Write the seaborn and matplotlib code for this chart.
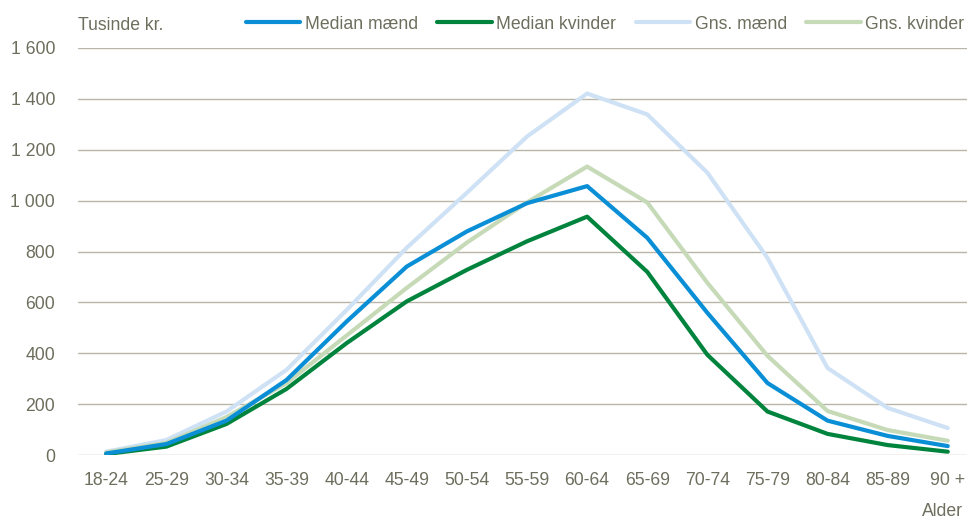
import pandas as pd
import matplotlib.pyplot as plt
import seaborn as sns

# Aldersgrupper
alder = ["18-24", "25-29", "30-34", "35-39", "40-44", "45-49", "50-54", "55-59",
         "60-64", "65-69", "70-74", "75-79", "80-84", "85-89", "90 +"]

# Tusinde kr.
median_maend = [6, 43, 135, 295, 525, 741, 879, 990, 1057, 854, 559, 283, 135, 75, 35]
median_kvinder = [4, 33, 122, 260, 440, 604, 728, 840, 937, 720, 394, 171, 83, 39, 13]
gns_maend = [13, 59, 171, 335, 570, 815, 1031, 1252, 1421, 1339, 1110, 775, 342, 185, 106]
gns_kvinder = [10, 48, 149, 283, 470, 657, 835, 993, 1134, 993, 677, 390, 173, 98, 56]

serier = ["Median mænd", "Median kvinder", "Gns. mænd", "Gns. kvinder"]
farver = ["#0A8FD6", "#00843D", "#CFE2F5", "#C6DAB8"]

df = pd.DataFrame({
    "Alder": alder,
    "Median mænd": median_maend,
    "Median kvinder": median_kvinder,
    "Gns. mænd": gns_maend,
    "Gns. kvinder": gns_kvinder,
})
lang = df.melt(id_vars="Alder", var_name="Serie", value_name="Værdi")
lang["pos"] = lang["Alder"].map({a: i for i, a in enumerate(alder)})

sns.set_style("white")
plt.rcParams["font.family"] = ["Liberation Sans", "DejaVu Sans"]
tekst = "#6E6E5E"
fs = 12.7

fig = plt.figure(figsize=(9.67, 5.2), dpi=100)
ax = fig.add_axes([78 / 967, 65 / 520, 1 - 78 / 967, 407 / 520])

# tegn de lyse serier bagerst
for navn, farve, z in zip(serier, farver, [4, 3, 1, 2]):
    d = lang[lang["Serie"] == navn]
    sns.lineplot(data=d, x="pos", y="Værdi", color=farve, lw=3.0, ax=ax,
                 label=navn, zorder=z)

ax.set_xlim(-0.47, 14.32)
ax.set_ylim(0, 1600)
ax.set_yticks(range(0, 1601, 200))
ax.set_yticklabels([f"{v:,}".replace(",", " ") for v in range(0, 1601, 200)])
ax.set_xticks(range(len(alder)))
ax.set_xticklabels(alder)
ax.tick_params(length=0, labelsize=fs, colors=tekst)
ax.tick_params(axis="x", pad=12.5)
ax.tick_params(axis="y", pad=16.5)
ax.grid(axis="y", color="#B8B6A8", lw=1)
ax.set_axisbelow(True)
sns.despine(ax=ax, left=True, bottom=True)
ax.set_xlabel("")
ax.set_ylabel("")

h, l = ax.get_legend_handles_labels()
ax.legend_.remove()
fig.legend(h, l, loc="center right", bbox_to_anchor=(1.0, 1 - 24 / 520), ncol=4, frameon=False,
           fontsize=fs, labelcolor=tekst, handlelength=3.1, handletextpad=0.25,
           columnspacing=1.1, borderaxespad=0.0, borderpad=0.15)

fig.text(78 / 967, 1 - 25 / 520, "Tusinde kr.", fontsize=fs, color=tekst, va="center")
fig.text(963 / 967, 1 - 512 / 520, "Alder", fontsize=fs, color=tekst, va="center", ha="right")

fig.savefig("out.png", dpi=100)
